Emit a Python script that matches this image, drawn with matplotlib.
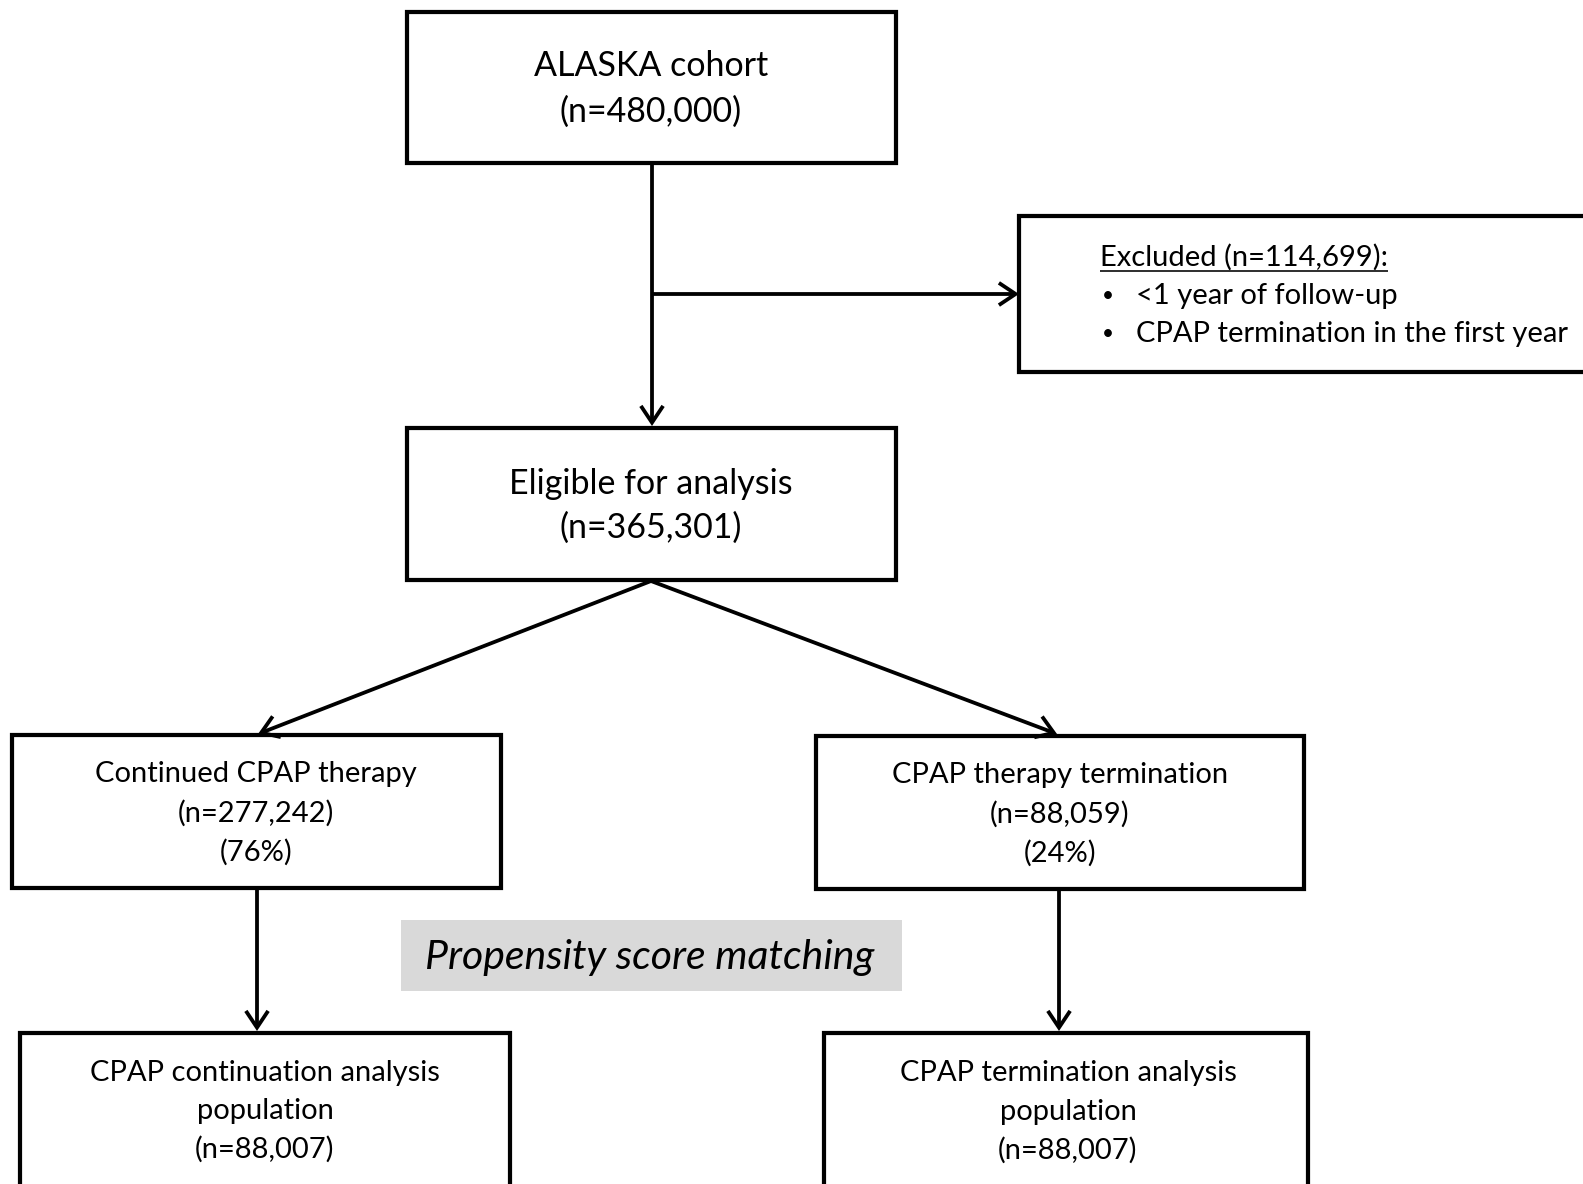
import matplotlib
matplotlib.use("Agg")
import matplotlib.pyplot as plt
from matplotlib.patches import Rectangle, FancyArrowPatch

# ---- data ----
top_label = ["ALASKA cohort", "(n=480,000)"]
eligible_label = ["Eligible for analysis", "(n=365,301)"]
excluded_title = "Excluded (n=114,699):"
excluded_items = ["<1 year of follow-up", "CPAP termination in the first year"]
continued_label = ["Continued CPAP therapy", "(n=277,242)", "(76%)"]
termination_label = ["CPAP therapy termination", "(n=88,059)", "(24%)"]
psm_label = "Propensity score matching"
cont_pop_label = ["CPAP continuation analysis", "population", "(n=88,007)"]
term_pop_label = ["CPAP termination analysis", "population", "(n=88,007)"]

W, H = 1583, 1184
DPI = 100
plt.rcParams['font.family'] = ['Lato', 'DejaVu Sans']

fig = plt.figure(figsize=(W / DPI, H / DPI), dpi=DPI)
ax = fig.add_axes([0, 0, 1, 1])
ax.set_xlim(0, W)
ax.set_ylim(H, 0)
ax.axis('off')

PX = 72 / DPI  # points per pixel
BOX_LW = 4.2 * PX
ARR_LW = 3.8 * PX


def box(x0, y0, x1, y1, fc='white', ec='black', lw=BOX_LW):
    ax.add_patch(Rectangle((x0, y0), x1 - x0, y1 - y0, facecolor=fc,
                           edgecolor=ec, linewidth=lw, joinstyle='miter'))


def lines(cx, cy, labels, size, spacing, **kw):
    n = len(labels)
    for i, t in enumerate(labels):
        y = cy + (i - (n - 1) / 2) * spacing
        ax.text(cx, y, t, ha='center', va='center', fontsize=size, **kw)


def arrow(p0, p1):
    a = FancyArrowPatch(p0, p1, arrowstyle='->,head_length=12,head_width=8',
                        mutation_scale=1, shrinkA=0, shrinkB=0,
                        linewidth=ARR_LW, color='black', capstyle='butt',
                        joinstyle='miter')
    ax.add_patch(a)


BIG = 24.5
SMALL = 21

# top box
box(407, 12, 896, 163)
lines(651, 89, top_label, BIG, 45)

# eligible box
box(407, 428, 896, 580)
lines(651, 506, eligible_label, BIG, 43)

# excluded box (extends past right edge)
box(1019, 216, 1600, 372)
ex_t = ax.text(1100, 257, excluded_title, ha='left', va='center', fontsize=SMALL)
for i, it in enumerate(excluded_items):
    y = 296 + i * 38
    ax.text(1108, y, "\u2022", ha='center', va='center', fontsize=15)
    ax.text(1136, y, it, ha='left', va='center', fontsize=SMALL)

# continued / termination boxes
box(12, 735, 501, 888)
lines(256, 813, continued_label, SMALL, 39)
box(816, 736, 1304, 889)
lines(1060, 814, termination_label, SMALL, 39)

# propensity score matching
ax.add_patch(Rectangle((401, 920), 501, 71, facecolor='#d9d9d9', edgecolor='none'))
ax.text(650, 957, psm_label, ha='center', va='center', fontsize=29.5, style='italic')

# bottom boxes
box(20, 1033, 510, 1200)
lines(265, 1111, cont_pop_label, SMALL, 38.5)
box(824, 1033, 1308, 1200)
lines(1068, 1112, term_pop_label, SMALL, 38.5)

# connectors
arrow((652, 163), (652, 426))
arrow((652, 294), (1019, 294))
arrow((651, 581), (258, 734))
arrow((651, 581), (1057, 734))
arrow((257, 888), (257, 1031))
arrow((1059, 889), (1059, 1031))

# underline excluded title
fig.canvas.draw()
bb = ex_t.get_window_extent(renderer=fig.canvas.get_renderer())
inv = ax.transData.inverted()
(x0, y0), (x1, y1) = inv.transform([(bb.x0, bb.y0), (bb.x1, bb.y1)])
uy = max(y0, y1) + 0.5
ax.plot([x0, x1], [uy, uy], color='black', lw=1.6 * PX, solid_capstyle='butt')

fig.savefig("out.png", dpi=DPI)
